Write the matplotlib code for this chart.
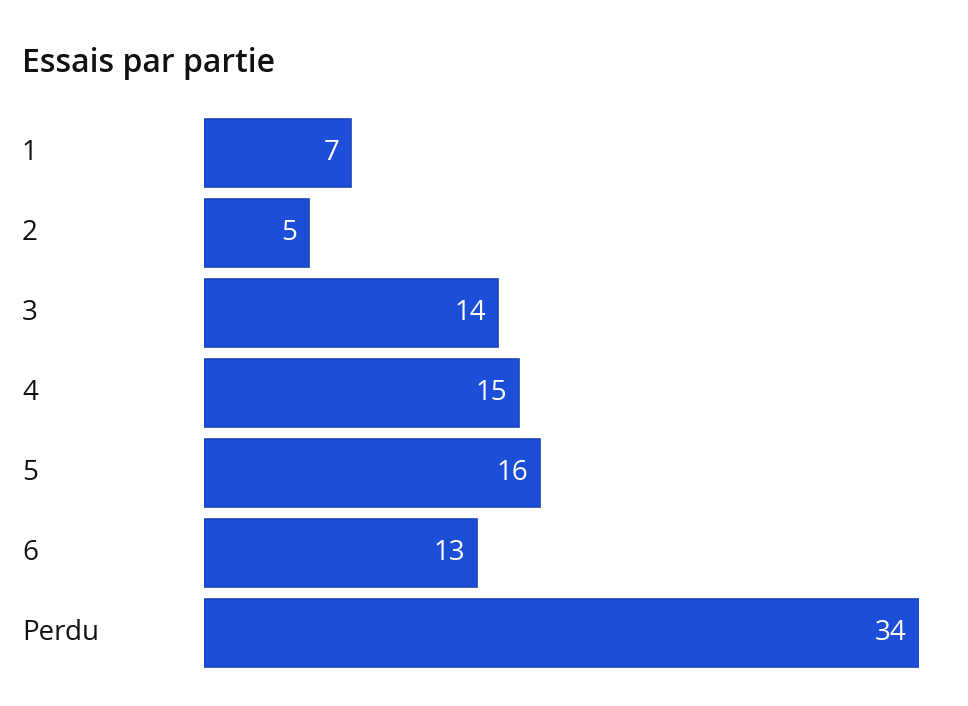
import matplotlib
matplotlib.use("Agg")
import matplotlib.pyplot as plt

categories = ["1", "2", "3", "4", "5", "6", "Perdu"]
values = [7, 5, 14, 15, 16, 13, 34]
title = "Essais par partie"

W, H = 968, 706
fig = plt.figure(figsize=(W/100, H/100), dpi=100)
fig.patch.set_facecolor("white")
left, right, top, bottom = 204, 919, 113, 673
ax = fig.add_axes([left/W, 1-bottom/H, (right-left)/W, (bottom-top)/H])
font = "Open Sans"
ax.barh(range(len(values)), values, height=0.84, color="#1d4ed8",
        edgecolor="#1a44c0", linewidth=1.2)
ax.set_xlim(0, max(values))
ax.set_ylim(len(values)-0.5, -0.5)
for s in ax.spines.values():
    s.set_visible(False)
ax.set_xticks([])
ax.set_yticks([])
px = max(values)/(right-left)
for i, (c, v) in enumerate(zip(categories, values)):
    ax.text(v - 12*px, i, str(v), ha="right", va="center", color="white",
            fontsize=20, family=font)
    fig.text(22/W, 1-(153+80*i)/H, c, ha="left", va="center", fontsize=20,
             family=font, color="#111111")
fig.text(22/W, 1-63/H, title, ha="left", va="center", fontsize=23,
         family=font, fontweight="semibold", color="#111111")
fig.savefig("out.png", dpi=100)
